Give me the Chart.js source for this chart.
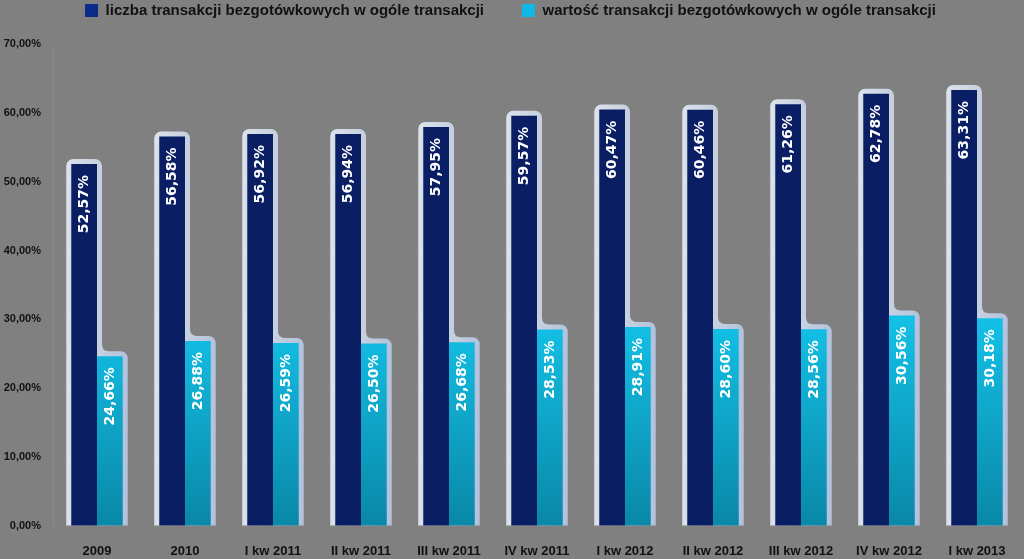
<!DOCTYPE html>
<html><head><meta charset="utf-8">
<script src="https://cdn.jsdelivr.net/npm/chart.js@4/dist/chart.umd.min.js"></script>
<style>html,body{margin:0;padding:0;background:#808080;}#wrap{width:1024px;height:559px;}</style>
</head><body><div id="wrap"><canvas id="c" width="1024" height="559"></canvas></div>
<script>
const categories = ["2009","2010","I kw 2011","II kw 2011","III kw 2011","IV kw 2011","I kw 2012","II kw 2012","III kw 2012","IV kw 2012","I kw 2013"];
const seriesCount = [52.57,56.58,56.92,56.94,57.95,59.57,60.47,60.46,61.26,62.78,63.31];
const seriesValue = [24.66,26.88,26.59,26.50,26.68,28.53,28.91,28.60,28.56,30.56,30.18];
const seriesNames = ["liczba transakcji bezgotówkowych w ogóle transakcji","wartość transakcji bezgotówkowych w ogóle transakcji"];
const yMin = 0, yMax = 70, yStep = 10;

const fmt = v => v.toFixed(2).replace('.', ',') + '%';

const ctx = document.getElementById('c').getContext('2d');

function cyanGrad(context){
  const chart = context.chart; const a = chart.chartArea;
  if(!a) return '#00b8e0';
  const g = chart.ctx.createLinearGradient(0, a.top + a.height*0.45, 0, a.bottom);
  g.addColorStop(0, '#16d0f8');
  g.addColorStop(1, '#0a88a8');
  return g;
}

const LEGEND_PAD = 38;
const legendFix = {
  id:'legendFix',
  beforeLayout(chart){
    const lg = chart.legend;
    if(lg && !lg._fixed){
      const f = lg.fit;
      lg.fit = function(){ f.call(this); this.height = 44; };
      lg._fixed = true;
    }
  },
  beforeDraw(chart){
    if(chart.legend){ chart.legend.top = 3 - LEGEND_PAD; }
  }
};

const bezel = {
  id:'bezel',
  beforeDatasetsDraw(chart){
    const c = chart.ctx;
    const m0 = chart.getDatasetMeta(0), m1 = chart.getDatasetMeta(1);
    c.save();
    for(let i=0;i<m0.data.length;i++){
      const n = m0.data[i], s = m1.data[i];
      const nL = n.x - n.width/2, nR = n.x + n.width/2, nT = n.y;
      const sR = s.x + s.width/2, sT = s.y;
      const base = n.base;
      const e = 5, r = 7;
      const g = c.createLinearGradient(nL-e,0,sR+e,0);
      g.addColorStop(0,'#dde3ec'); g.addColorStop(0.5,'#c8d1df'); g.addColorStop(1,'#b3c1dc');
      c.fillStyle = g;
      c.beginPath();
      c.moveTo(nL-e, base);
      c.arcTo(nL-e, nT-e, nR+e, nT-e, r);
      c.arcTo(nR+e, nT-e, nR+e, sT-e, r);
      c.lineTo(nR+e, sT-e-r);
      c.quadraticCurveTo(nR+e, sT-e, nR+e+r, sT-e);
      c.arcTo(sR+e, sT-e, sR+e, base, r);
      c.lineTo(sR+e, base);
      c.closePath();
      c.fill();
    }
    c.restore();
  }
};

const labelsPlugin = {
  id:'vlabels',
  afterDatasetsDraw(chart){
    const c = chart.ctx;
    c.save();
    c.fillStyle = '#ffffff';
    c.font = 'bold 14px "DejaVu Sans", sans-serif';
    c.textAlign = 'right';
    c.textBaseline = 'middle';
    chart.data.datasets.forEach((ds, di) => {
      chart.getDatasetMeta(di).data.forEach((el, i) => {
        c.save();
        c.translate(el.x, el.y + 11);
        c.rotate(-Math.PI/2);
        c.fillText(fmt(ds.data[i]), 0, 0);
        c.restore();
      });
    });
    c.restore();
  }
};

new Chart(ctx, {
  type:'bar',
  data:{
    labels: categories,
    datasets:[
      {label: seriesNames[0], data: seriesCount, backgroundColor:'#0a1e64', borderWidth:0},
      {label: seriesNames[1], data: seriesValue, backgroundColor: cyanGrad, borderWidth:0}
    ]
  },
  options:{
    responsive:false,
    animation:false,
    devicePixelRatio:1,
    layout:{padding:{left:0,right:3,top:0,bottom:0}},
    datasets:{bar:{categoryPercentage:0.585, barPercentage:1.0}},
    scales:{
      x:{
        grid:{display:false},
        border:{display:false},
        ticks:{color:'#111', font:{family:'"Liberation Sans", sans-serif', weight:'bold', size:13}, padding:10, maxRotation:0, autoSkip:false},
        afterFit(s){ s.height = 33; }
      },
      y:{
        min:yMin, max:yMax,
        grid:{color:'#828282', drawTicks:false},
        border:{display:true, color:'#8a8a8a'},
        ticks:{stepSize:yStep, color:'#111', padding:12, font:{family:'"Liberation Sans", sans-serif', weight:'bold', size:11}, callback:v=>v.toFixed(2).replace('.',',')+'%'},
        afterFit(s){ s.width = 53; }
      }
    },
    plugins:{
      legend:{
        position:'top',
        labels:{color:'#111', boxWidth:13, boxHeight:13, padding:LEGEND_PAD, font:{family:'"Liberation Sans", sans-serif', weight:'bold', size:15},
          generateLabels(chart){
            return chart.data.datasets.map((d,i)=>({text:d.label, fillStyle: i===0?'#0b2a8a':'#10b8e8', strokeStyle:'transparent', lineWidth:0, datasetIndex:i, fontColor:'#111'}));
          }
        }
      },
      tooltip:{enabled:false}
    }
  },
  plugins:[legendFix, bezel, labelsPlugin]
});
</script>
</body></html>
